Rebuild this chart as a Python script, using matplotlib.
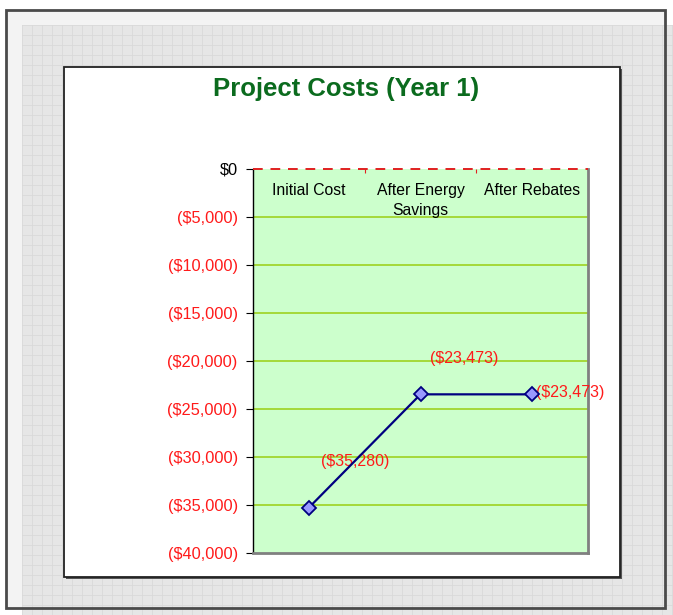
import numpy as np
import matplotlib.pyplot as plt
from matplotlib.patches import Rectangle

plt.rcParams['font.family'] = ['Liberation Sans', 'DejaVu Sans']

categories = ['Initial Cost', 'After Energy\nSavings', 'After Rebates']
costs = [-35280, -23473, -23473]
yticks = [0, -5000, -10000, -15000, -20000, -25000, -30000, -35000, -40000]
label_offsets = [(46, 46), (44, 36), (38, 2)]  # pixels from each point


def money(v):
    if v == 0:
        return '$0'
    if v < 0:
        return '(${:,.0f})'.format(-v)
    return '${:,.0f}'.format(v)


W, H = 673, 615
fig = plt.figure(figsize=(W / 100, H / 100), dpi=100)

# background: frame + grid paper + white chart box (pixel coords)
bg = fig.add_axes([0, 0, 1, 1])
bg.set_xlim(0, W)
bg.set_ylim(H, 0)
bg.axis('off')
bg.add_patch(Rectangle((6, 10), 659, 598, facecolor='#f3f3f3', edgecolor='none', zorder=0))
bg.add_patch(Rectangle((22, 25), W - 22, H - 25, facecolor='#e6e6e6', edgecolor='none', zorder=0))
for gx in np.arange(22, W, 10):
    bg.plot([gx, gx], [25, H], color='#d9d9d9', lw=0.6, zorder=0.5)
for gy in np.arange(25, H, 10):
    bg.plot([22, W], [gy, gy], color='#d9d9d9', lw=0.6, zorder=0.5)
bg.add_patch(Rectangle((6, 10), 659, 598, facecolor='none', edgecolor='#4a4a4a', lw=2, zorder=2))
bg.add_patch(Rectangle((66, 69), 556, 510, facecolor='#555555', edgecolor='none', zorder=2))
bg.add_patch(Rectangle((64, 67), 556, 510, facecolor='white', edgecolor='#222222', lw=1.3, zorder=3))
bg.text(346, 89, 'Project Costs (Year 1)', ha='center', va='center',
        fontsize=18.5, fontweight='bold', color='#0b6b1e', zorder=4)

# plot area
ax = fig.add_axes([253 / W, (H - 553) / H, 335 / W, 384 / H])
ax.set_facecolor('#ccffcc')
x = np.arange(len(categories))
ax.set_xlim(-0.5, len(categories) - 0.5)
ax.set_ylim(-40000, 0)

for t in yticks[1:-1]:
    ax.axhline(t, color='#a4d83a', lw=1.4, zorder=1)
ax.axhline(0, color='#e02020', lw=1.4, ls=(0, (5, 4)), zorder=3, clip_on=False)

ax.plot(x, costs, color='#000080', lw=1.6, marker='D', markersize=7,
        markerfacecolor='#9999ff', markeredgecolor='#000080', markeredgewidth=1.3, zorder=4)

for xi, v, off in zip(x, costs, label_offsets):
    ax.annotate(money(v), (xi, v), xytext=off, textcoords='offset pixels',
                ha='center', va='center', color='#ff1a1a', fontsize=11.5)

for xi, c in zip(x, categories):
    ax.text(xi, -1450, c, ha='center', va='top', fontsize=11.3, color='black', linespacing=1.4)

ax.set_yticks(yticks)
ax.set_yticklabels([money(t) for t in yticks], fontsize=11.8)
for lbl, t in zip(ax.get_yticklabels(), yticks):
    lbl.set_color('black' if t == 0 else '#ff1a1a')
ax.tick_params(axis='y', length=5, color='black', pad=6)

ax.set_xticks([0.5, 1.5])
ax.set_xticklabels([])
ax.xaxis.set_ticks_position('top')
ax.tick_params(axis='x', direction='in', length=3, color='#e02020')

ax.spines['top'].set_visible(False)
ax.spines['left'].set_color('black')
ax.spines['left'].set_linewidth(1.0)
for s in ('right', 'bottom'):
    ax.spines[s].set_color('#808080')
    ax.spines[s].set_linewidth(2)

fig.savefig('out.png', dpi=100)
